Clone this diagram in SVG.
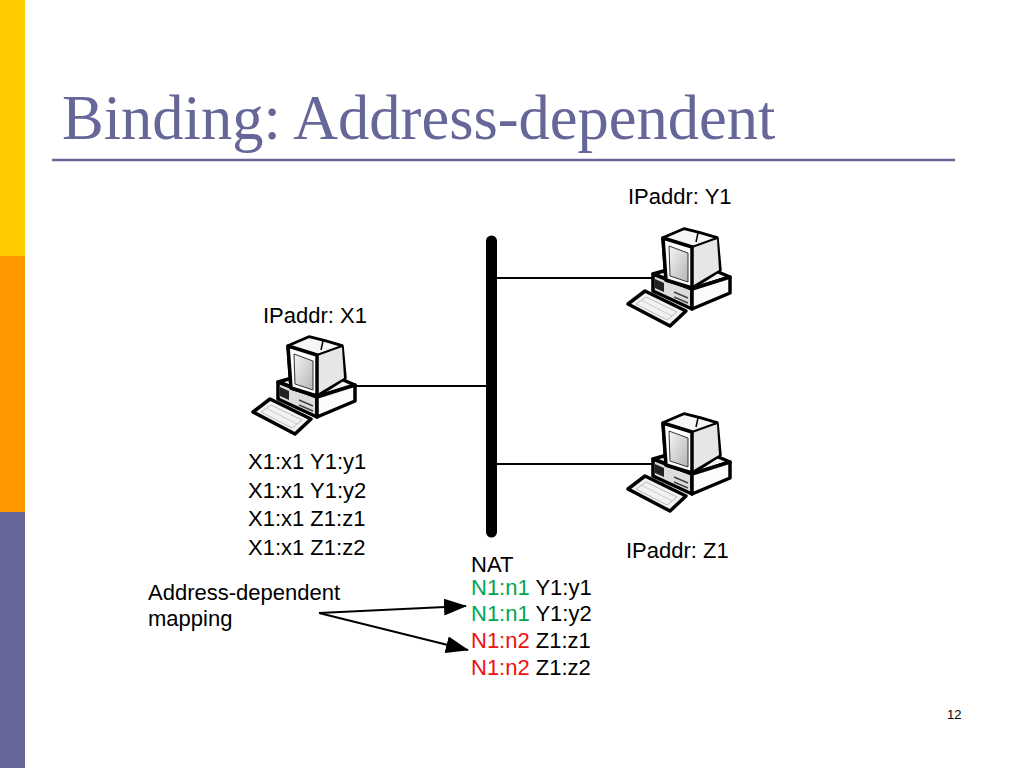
<svg xmlns="http://www.w3.org/2000/svg" width="1024" height="768" viewBox="0 0 1024 768">
<style>
.t{font-family:"Liberation Sans",Arial,sans-serif;font-size:22px;fill:#000}
.g{fill:#00A651}
.r{fill:#EE1111}
.title{font-family:"Liberation Serif","Times New Roman",serif;font-size:62.5px;fill:#666699}
.ol{stroke:#000;stroke-width:3.5;stroke-linejoin:round}
.thin{stroke:#000;stroke-width:2;fill:none}
</style>
<defs>
<linearGradient id="scr" x1="0" y1="0" x2="1" y2="1">
<stop offset="0" stop-color="#f6f6f6"/>
<stop offset="1" stop-color="#b4b4b4"/>
</linearGradient>
<marker id="ah" markerUnits="userSpaceOnUse" markerWidth="23" markerHeight="17" refX="22" refY="8.5" orient="auto">
<path d="M0,0 L23,8.5 L0,17 Z" fill="#000"/>
</marker>
<g id="pc">
<polygon class="ol" points="33,52 75,40 110,55 72,67" fill="#f4f4f4"/>
<polygon class="ol" points="33,52 72,67 72,87 33,69" fill="#dcdcdc"/>
<polygon class="ol" points="72,67 110,55 110,71 72,87" fill="#fbfbfb"/>
<polygon points="35,57 44,61 44,70 35,66" fill="#222"/>
<line x1="54" y1="70" x2="68" y2="76" stroke="#444" stroke-width="1.5"/>
<line x1="54" y1="75" x2="68" y2="81" stroke="#444" stroke-width="1.5"/>
<polygon class="ol" points="43,16 64,7 80,11 97,16 100,48 72,66 46,58" fill="#ffffff"/>
<polygon points="72,25 97,17 99,48 72,64" fill="#e6e6e6"/>
<polygon points="64,7 80,11 97,16 72,25 43,16" fill="#f6f6f6" stroke="#000" stroke-width="2" stroke-linejoin="round"/>
<polyline points="78,11 76,20" fill="none" stroke="#000" stroke-width="1.5"/>
<polygon class="ol" points="43,16 72,25 72,66 46,58" fill="#ffffff"/>
<polygon points="49,24 68,31 68,60 50,54" fill="url(#scr)" stroke="#333" stroke-width="1"/>
<polygon class="ol" points="8,82 25,69 66,89 50,104" fill="#f2f2f2"/>
<polygon points="16,82 26,75 57,90 47,98" fill="none" stroke="#bbb" stroke-width="1"/>
<line x1="21" y1="78" x2="52" y2="94" stroke="#ccc" stroke-width="1"/>
</g>
</defs>
<rect width="1024" height="768" fill="#ffffff"/>
<rect x="0" y="0" width="25" height="256" fill="#FFCC00"/>
<rect x="0" y="256" width="25" height="256" fill="#FF9900"/>
<rect x="0" y="512" width="25" height="256" fill="#666699"/>
<text class="title" x="62" y="139">Binding: Address-dependent</text>
<line x1="52" y1="160" x2="955" y2="160" stroke="#666699" stroke-width="2.5"/>
<g id="connectors">
<line x1="491.5" y1="241" x2="491.5" y2="532" stroke="#000" stroke-width="11" stroke-linecap="round"/>
<line x1="491" y1="278" x2="654" y2="278" stroke="#000" stroke-width="2"/>
<line x1="491" y1="464" x2="653" y2="464" stroke="#000" stroke-width="2"/>
<line x1="355" y1="386" x2="491" y2="386" stroke="#000" stroke-width="2"/>
<line x1="319" y1="613" x2="466" y2="606" class="thin" marker-end="url(#ah)"/>
<line x1="319" y1="613" x2="468" y2="650" class="thin" marker-end="url(#ah)"/>
</g>
<g id="node-x1">
<use href="#pc" x="245" y="330"/>
<text class="t" x="263" y="323">IPaddr: X1</text>
<text class="t" x="248" y="469">X1:x1 Y1:y1</text>
<text class="t" x="248" y="498">X1:x1 Y1:y2</text>
<text class="t" x="248" y="526">X1:x1 Z1:z1</text>
<text class="t" x="248" y="555">X1:x1 Z1:z2</text>
</g>
<g id="node-y1">
<use href="#pc" x="620" y="222"/>
<text class="t" x="628" y="204">IPaddr: Y1</text>
</g>
<g id="node-z1">
<use href="#pc" x="620" y="407"/>
<text class="t" x="626" y="558">IPaddr: Z1</text>
</g>
<g id="node-nat">
<text class="t" x="471" y="572">NAT</text>
<text class="t" x="471" y="595"><tspan class="g">N1:n1</tspan> Y1:y1</text>
<text class="t" x="471" y="621"><tspan class="g">N1:n1</tspan> Y1:y2</text>
<text class="t" x="471" y="648"><tspan class="r">N1:n2</tspan> Z1:z1</text>
<text class="t" x="471" y="675"><tspan class="r">N1:n2</tspan> Z1:z2</text>
</g>
<g id="label-mapping">
<text class="t" x="148" y="600">Address-dependent</text>
<text class="t" x="148" y="626">mapping</text>
</g>
<text x="947" y="719" font-family="Liberation Sans,Arial,sans-serif" font-size="13" fill="#000">12</text>
</svg>
